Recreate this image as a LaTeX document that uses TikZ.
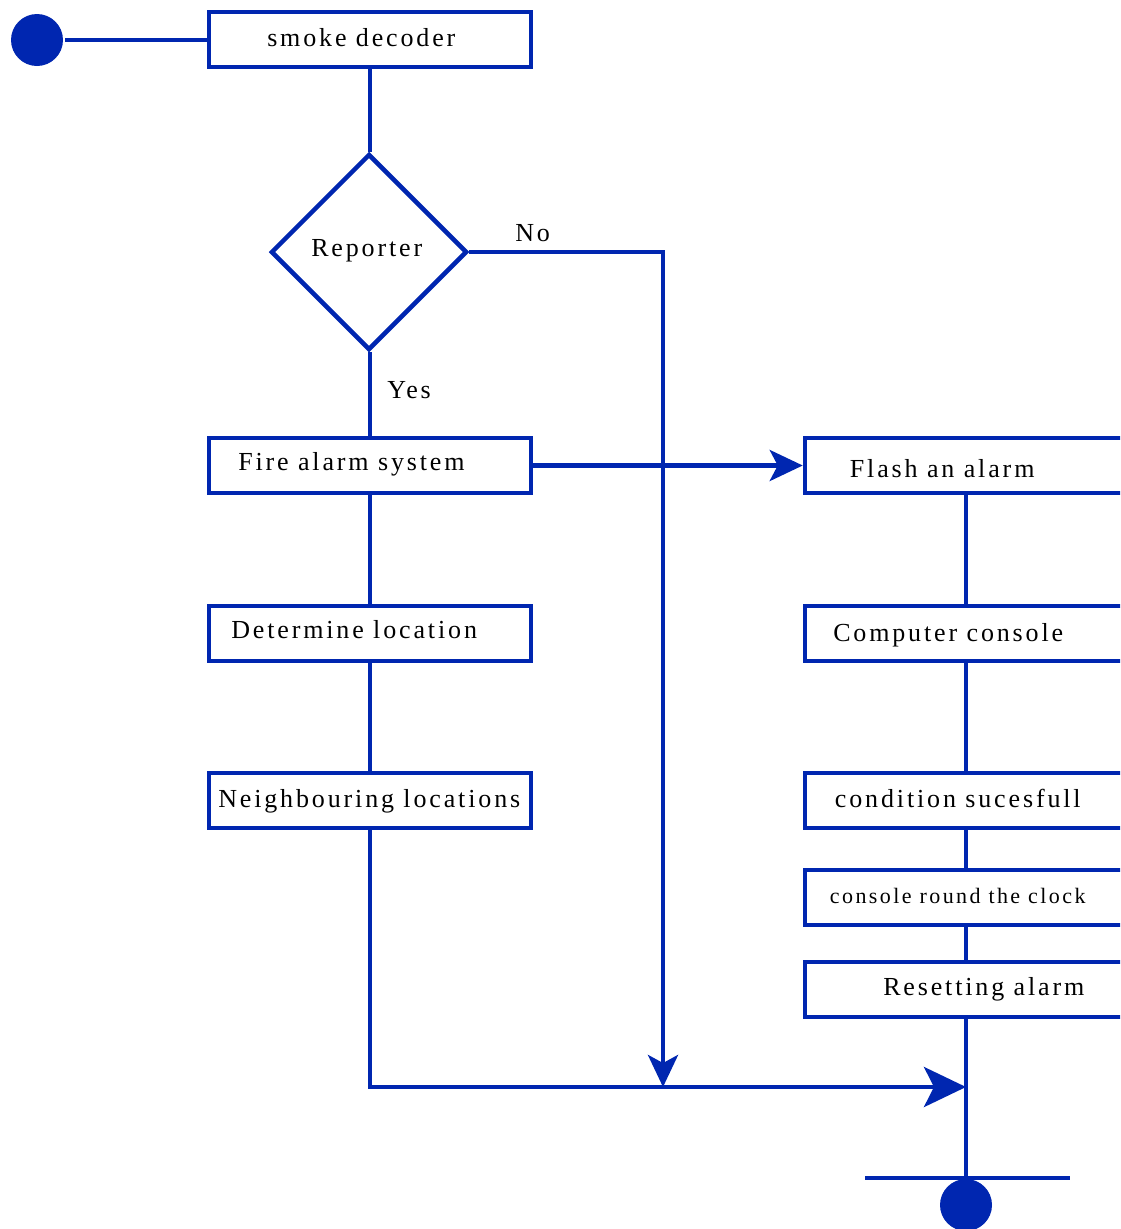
\documentclass[tikz,border=0pt]{standalone}
\usepackage{fontspec}
\setmainfont{Liberation Serif}[LetterSpace=11]
\usepackage{tikz}
\usetikzlibrary{positioning,calc,arrows.meta,shapes}
\definecolor{flowblue}{RGB}{0,38,176}

\begin{document}
\begin{tikzpicture}[x=1pt,y=-1pt,line width=4.5pt,draw=flowblue,
    box/.style={draw,rectangle,minimum width=322pt,minimum height=55pt,inner sep=0pt},
    decision/.style={draw,diamond,minimum width=196pt,minimum height=196pt,inner sep=0pt},
    dot/.style={circle,fill=flowblue,minimum size=52pt,inner sep=0pt},
    txt/.style={anchor=base west,inner sep=0pt,font=\fontsize{26}{30}\selectfont},
    small/.style={txt,font=\fontsize{22}{26}\selectfont},
    bigtip/.style={-{Stealth[length=42pt,width=40pt,inset=10pt]}},
    tip/.style={-{Stealth[length=33pt,width=31pt,inset=8pt]}}]
    \path[use as bounding box] (0,0) rectangle (1120,1229);
    \clip (0,0) rectangle (1120,1229);
    % left column
    \node[dot] (start) at (37,40) {};
    \node[box] (smoke) at (370,39.5) {};
    \node[decision] (rep) at (369,252) {};
    \node[box] (fire) at (370,465.5) {};
    \node[box] (det) at (370,633.5) {};
    \node[box] (neigh) at (370,800.5) {};
    % right column
    \node[box] (flash) at (966,465.5) {};
    \node[box] (comp) at (966,633.5) {};
    \node[box] (cond) at (966,800.5) {};
    \node[box] (clock) at (966,897.5) {};
    \node[box] (reset) at (966,989.5) {};
    \coordinate (merge) at (663,1087);
    \coordinate (join) at (966,1087);
    \coordinate (barL) at (865,1178);
    \coordinate (barR) at (1070,1178);
    \coordinate (barM) at (966,1178);
    \node[dot] (stop) at (966,1205) {};
    % texts
    \node[txt] (smoke-t) at (265,46) {smoke decoder};
    \node[txt] (rep-t) at (309,256) {Reporter};
    \node[txt] (no) at (513,241) {No};
    \node[txt] (yes) at (385,398) {Yes};
    \node[txt] (fire-t) at (236,470.7) {Fire alarm system};
    \node[txt] (det-t) at (229,638) {Determine location};
    \node[txt] (neigh-t) at (216,807.7) {Neighbouring locations};
    \node[txt] (flash-t) at (847.7,477.7) {Flash an alarm};
    \node[txt] (comp-t) at (831,641.7) {Computer console};
    \node[txt] (cond-t) at (832.7,807) {condition sucesfull};
    \node[small] (clock-t) at (827.7,903.3) {console round the clock};
    \node[txt] (reset-t) at (881,995) {Resetting alarm};
    % connectors
    \draw (start) -- (start -| smoke.west);
    \draw (smoke) -- (smoke |- rep.north);
    \draw (smoke |- rep.south) -- (fire);
    \draw (fire) -- (det);
    \draw (det) -- (neigh);
    \draw[tip] (fire) -- (flash);
    \draw[-{Stealth[length=32pt,width=30pt,inset=8pt]}] (rep.east) -| (merge);
    \draw[bigtip] (neigh.south) |- (join);
    \draw (flash) -- (comp);
    \draw (comp) -- (cond);
    \draw (cond) -- (clock);
    \draw (clock) -- (reset);
    \draw (reset) -- (barM);
    \draw (barL) -- (barR);
\end{tikzpicture}
\end{document}
